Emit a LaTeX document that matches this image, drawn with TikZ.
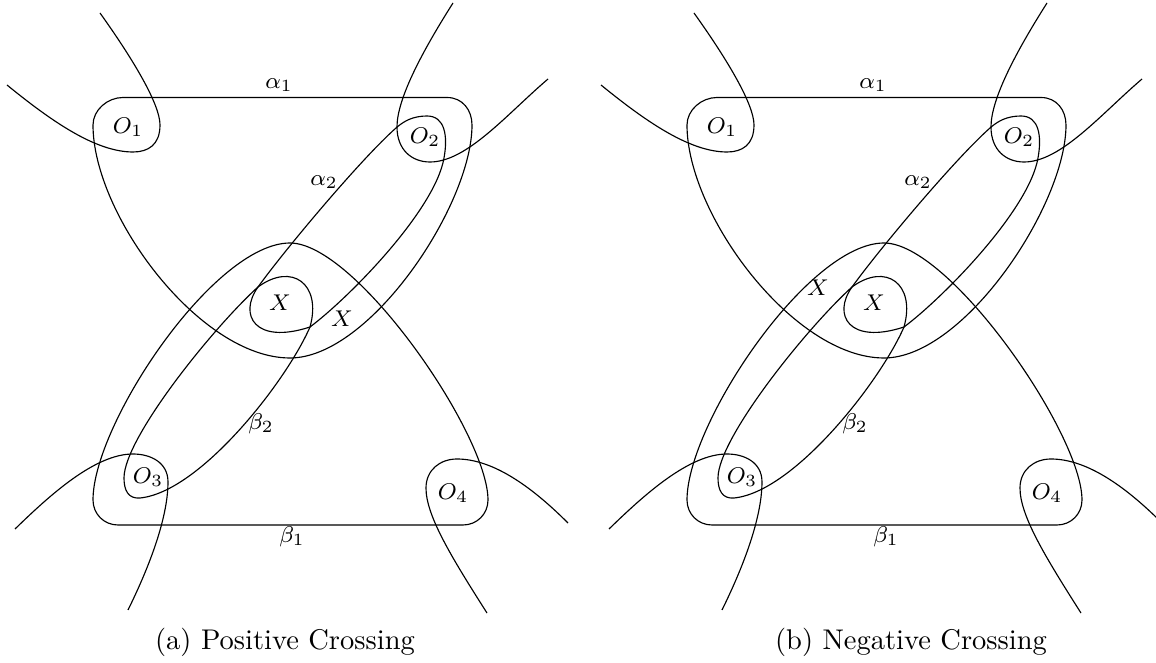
\documentclass[tikz,border=0pt]{standalone}
\tikzset{
  curve/.style={draw=black, line width=0.4pt},
  lbl/.style={font=\footnotesize, inner sep=0pt},
  captxt/.style={font=\normalsize, inner sep=0pt},
}
\newcommand{\crossingpanel}[1]{%
  % alpha_1
  \draw[curve] (123,97.5) -- (447,97.5) .. controls (462.5,97.5) and (472,110) .. (472,125)
     .. controls (472,205) and (370,358) .. (290,358)
     .. controls (200,358) and (93,215) .. (93,125)
     .. controls (93,110) and (107.5,97.5) .. cycle;
  % beta_1
  \draw[curve] (118,525) -- (463,525) .. controls (477,525) and (488,514) .. (488,500)
     .. controls (488,434) and (356,243) .. (290,243)
     .. controls (214,243) and (93,424) .. (93,500)
     .. controls (93,514) and (104,525) .. cycle;
  % alpha_2
  \draw[curve] (258,287) .. controls (238,315) and (255,345) .. (310,327)
     .. controls (350,297) and (435,210) .. (444,158)
     .. controls (448,136) and (445,116) .. (427,116)
     .. controls (413,116) and (404,121) .. (396,128)
     .. controls (362,158) and (287,247) .. cycle;
  % beta_2
  \draw[curve] (258,287) .. controls (292,262) and (322,284) .. (310,327)
     .. controls (286,382) and (200,492) .. (140,498)
     .. controls (128,499) and (124,490) .. (124,478)
     .. controls (124,438) and (213.6,327.2) .. cycle;
  % hooks
  \draw[curve] (100,13) .. controls (135,62) and (160,105) .. (160,125) .. controls (160,145) and (148,152) .. (133,152) .. controls (95,152) and (50,120) .. (7,85);
  \draw[curve] (453,3) .. controls (420,55) and (397,100) .. (397,127) .. controls (397,150) and (412,162) .. (430,162) .. controls (467,162) and (507,114) .. (548,79);
  \draw[curve] (128,610) .. controls (160,545) and (168,505) .. (168,482) .. controls (168,462) and (150,454) .. (133,454) .. controls (95,454) and (50,495) .. (15,529);
  \draw[curve] (487,613) .. controls (450,555) and (426,515) .. (426,488) .. controls (426,470) and (440,459) .. (457,459) .. controls (495,459) and (535,490) .. (568,523);
  % labels
  \node[lbl] (O1) at (128,127) {$O_1$};
  \node[lbl] (O2) at (425,137) {$O_2$};
  \node[lbl] (O3) at (148,477) {$O_3$};
  \node[lbl] (O4) at (453,493) {$O_4$};
  \node[lbl] (X1) at (280,303) {$X$};
  \node[lbl] (X2) at (#1) {$X$};
  \node[lbl] (a1) at (279,85) {$\alpha_1$};
  \node[lbl] (a2) at (324,182) {$\alpha_2$};
  \node[lbl] (b2) at (261,424) {$\beta_2$};
  \node[lbl] (b1) at (292,537) {$\beta_1$};
}
\begin{document}
\begin{tikzpicture}[x=0.351pt, y=-0.351pt]
  \useasboundingbox (0,0) rectangle (1156,663);
  \begin{scope}[name prefix=pa-]
    \crossingpanel{342,319}
    \node[captxt] (cap) at (285,642) {(a) Positive Crossing};
  \end{scope}
  \begin{scope}[shift={(594,0)}, name prefix=pb-]
    \crossingpanel{224,288}
    \node[captxt] (cap) at (317,642) {(b) Negative Crossing};
  \end{scope}
\end{tikzpicture}
\end{document}
